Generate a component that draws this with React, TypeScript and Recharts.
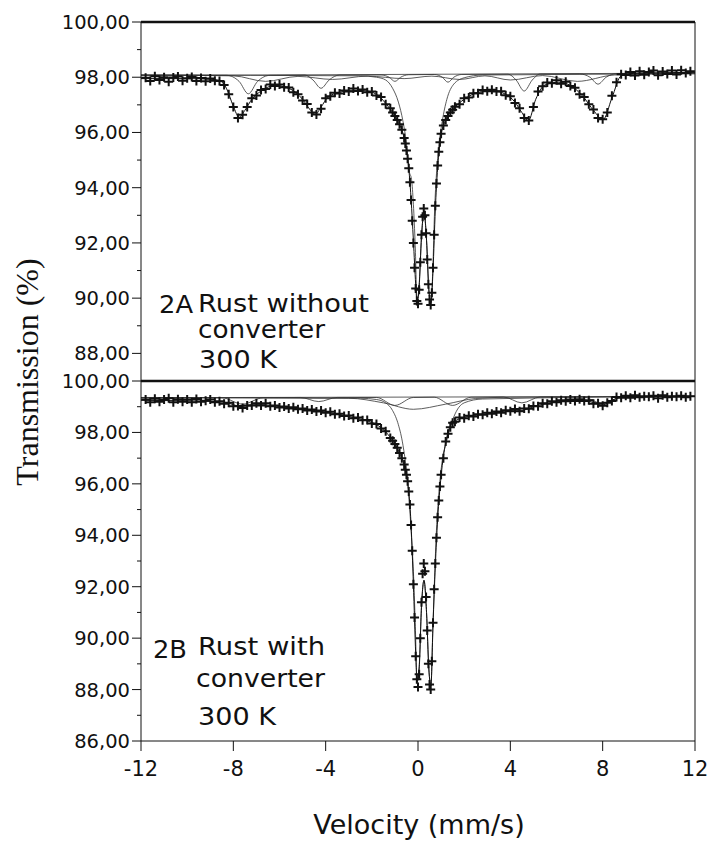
import React from "react";
import { ComposedChart, Line, XAxis, YAxis, ReferenceLine } from "recharts";

// velocity grid shared by both measured spectra (mm/s)
const VELOCITY = [
  -11.8, -11.6, -11.4, -11.2, -11.0, -10.8, -10.6, -10.4, -10.2, -10.0,
  -9.8, -9.6, -9.4, -9.2, -9.0, -8.8, -8.6, -8.4, -8.2, -8.0,
  -7.8, -7.6, -7.4, -7.2, -7.0, -6.8, -6.6, -6.4, -6.2, -6.0,
  -5.8, -5.6, -5.4, -5.2, -5.0, -4.8, -4.6, -4.4, -4.2, -4.0,
  -3.8, -3.6, -3.4, -3.2, -3.0, -2.8, -2.6, -2.4, -2.2, -2.0,
  -1.8, -1.6, -1.4, -1.2,
  -1.1, -1.0, -0.9, -0.8, -0.7, -0.6,
  -0.55, -0.5, -0.45, -0.4, -0.35, -0.3, -0.25, -0.2, -0.15, -0.1,
  -0.05, 0, 0.05, 0.1, 0.15, 0.2, 0.25, 0.3, 0.35, 0.4,
  0.45, 0.5, 0.55, 0.6, 0.65, 0.7, 0.75, 0.8, 0.85, 0.9,
  0.95, 1.0, 1.1, 1.2, 1.3, 1.4, 1.5,
  1.6, 1.8, 2.0, 2.2, 2.4, 2.6, 2.8, 3.0, 3.2, 3.4,
  3.6, 3.8, 4.0, 4.2, 4.4, 4.6, 4.8, 5.0, 5.2, 5.4,
  5.6, 5.8, 6.0, 6.2, 6.4, 6.6, 6.8, 7.0, 7.2, 7.4,
  7.6, 7.8, 8.0, 8.2, 8.4, 8.6, 8.8, 9.0, 9.2, 9.4,
  9.6, 9.8, 10.0, 10.2, 10.4, 10.6, 10.8, 11.0, 11.2, 11.4,
  11.6, 11.8,
];

// 2A: rust without converter (%)
const DATA_A = [
  97.98, 97.86, 98.04, 97.9, 98.0, 97.84, 97.99, 98.03, 97.87, 97.96,
  98.01, 97.86, 97.97, 97.85, 97.95, 97.87, 97.86, 97.72, 97.38, 96.92,
  96.52, 96.64, 96.92, 97.24, 97.34, 97.54, 97.57, 97.74, 97.68, 97.74,
  97.64, 97.63, 97.46, 97.38, 97.16, 97.03, 96.72, 96.65, 96.86, 97.24,
  97.31, 97.44, 97.41, 97.52, 97.48, 97.59, 97.5, 97.56, 97.46, 97.48,
  97.34, 97.28, 97.02, 96.88,
  96.72, 96.6, 96.45, 96.3, 96.1, 95.8,
  95.6, 95.35, 95.05, 94.7, 94.2, 93.55, 92.8, 92.0, 91.1, 90.35,
  89.9, 89.8, 90.3, 91.3, 92.3, 92.95, 93.25, 93.0, 92.35, 91.4,
  90.5, 89.95, 89.75, 90.2, 91.1, 92.3, 93.35, 94.15, 94.8, 95.3,
  95.65, 95.95, 96.25, 96.45, 96.6, 96.72, 96.82,
  96.93, 97.02, 97.24, 97.27, 97.42, 97.42, 97.54, 97.49, 97.55, 97.48,
  97.49, 97.35, 97.31, 97.07, 96.88, 96.52, 96.43, 96.92, 97.48, 97.67,
  97.81, 97.78, 97.89, 97.76, 97.84, 97.68, 97.62, 97.38, 97.28, 97.02,
  96.83, 96.52, 96.48, 96.72, 97.33, 97.82, 98.11, 98.08, 98.19, 98.06,
  98.22, 98.09, 98.19, 98.24, 98.07, 98.21, 98.12, 98.24, 98.1, 98.25,
  98.15, 98.22,
];

// 2B: rust with converter (%)
const DATA_B = [
  99.28, 99.17, 99.31, 99.19, 99.28, 99.33, 99.17, 99.29, 99.19, 99.28,
  99.17, 99.3, 99.19, 99.23, 99.28, 99.17, 99.21, 99.12, 99.15, 99.02,
  99.03, 98.95, 99.05, 99.05, 99.13, 99.05, 99.13, 99.02, 99.05, 98.97,
  99.01, 98.93, 98.98, 98.9, 98.93, 98.85, 98.89, 98.81, 98.85, 98.77,
  98.8, 98.71, 98.73, 98.64, 98.66, 98.55, 98.58, 98.47, 98.48, 98.35,
  98.33, 98.15, 98.05, 97.78,
  97.68, 97.55, 97.4, 97.2, 97.0, 96.75,
  96.55, 96.35, 96.1, 95.7, 95.2, 94.4, 93.4, 92.1, 90.8, 89.3,
  88.4, 88.1, 88.6, 90.0, 91.4, 92.5, 92.9, 92.6, 91.6, 90.3,
  89.0, 88.2, 88.0, 89.1, 90.6, 91.9, 92.9, 93.9, 94.7, 95.35,
  95.9, 96.35, 97.0, 97.65, 97.95, 98.2, 98.38,
  98.42, 98.58, 98.55, 98.65, 98.62, 98.71, 98.69, 98.77, 98.73, 98.81,
  98.77, 98.86, 98.82, 98.91, 98.82, 98.93, 98.92, 99.03, 99.02, 99.13,
  99.12, 99.21, 99.17, 99.25, 99.21, 99.28, 99.22, 99.29, 99.22, 99.25,
  99.12, 99.13, 99.04, 99.15, 99.22, 99.38, 99.35, 99.43, 99.35, 99.45,
  99.37, 99.41, 99.39, 99.43, 99.33, 99.45, 99.37, 99.41, 99.39, 99.43,
  99.37, 99.41,
];

// fitted envelopes
const FIT_VEL = [
  -12, -11, -10, -9, -8.6, -8.3, -8.0, -7.75, -7.5, -7.2,
  -6.8, -6.2, -5.6, -5.0, -4.7, -4.45, -4.2, -3.9, -3.4, -2.8,
  -2.2, -1.7, -1.3, -1.0, -0.8, -0.6, -0.45, -0.3, -0.2, -0.1,
  -0.04, 0.05, 0.15, 0.26, 0.37, 0.47, 0.56, 0.65, 0.75, 0.85,
  1.0, 1.2, 1.5, 2.0, 2.6, 3.2, 3.8, 4.2, 4.5, 4.78,
  5.1, 5.5, 6.1, 6.7, 7.2, 7.6, 8.02, 8.4, 8.8, 9.5,
  10.5, 12,
];
const FIT_A = [
  97.95, 97.95, 97.95, 97.93, 97.88, 97.6, 96.95, 96.55, 96.8, 97.2,
  97.5, 97.7, 97.6, 97.2, 96.85, 96.65, 96.92, 97.28, 97.45, 97.53,
  97.5, 97.32, 96.95, 96.6, 96.3, 95.8, 95.1, 93.6, 92.1, 90.5,
  89.85, 90.4, 92.2, 93.1, 92.1, 90.3, 89.8, 91.0, 93.2, 94.7,
  95.9, 96.45, 96.82, 97.2, 97.45, 97.52, 97.38, 97.1, 96.72, 96.42,
  97.2, 97.72, 97.82, 97.65, 97.25, 96.8, 96.47, 97.25, 98.05, 98.15,
  98.16, 98.18,
];
const FIT_B = [
  99.25, 99.24, 99.23, 99.21, 99.19, 99.16, 99.08, 99.02, 99.02, 99.07,
  99.08, 99.03, 98.96, 98.9, 98.87, 98.85, 98.82, 98.78, 98.7, 98.58,
  98.45, 98.25, 97.92, 97.55, 97.2, 96.75, 96.1, 94.4, 92.1, 89.4,
  88.3, 88.8, 91.2, 92.25, 91.0, 88.8, 88.15, 90.5, 92.8, 94.6,
  96.3, 97.6, 98.38, 98.58, 98.68, 98.76, 98.83, 98.87, 98.86, 98.93,
  99.03, 99.12, 99.2, 99.25, 99.25, 99.16, 99.07, 99.25, 99.37, 99.4,
  99.4, 99.4,
];

// quadrupole doublet sub-spectra
const DOUBLET_VEL = [
  -12, -2.5, -1.8, -1.4, -1.1, -0.85, -0.65, -0.5, -0.38, -0.28,
  -0.2, -0.12, -0.04, 0.05, 0.15, 0.26, 0.37, 0.47, 0.56, 0.64,
  0.72, 0.8, 0.9, 1.05, 1.25, 1.55, 2.0, 2.8, 12,
];
const DOUBLET_A = [
  98.08, 98.05, 98.0, 97.9, 97.6, 97.1, 96.4, 95.6, 94.6, 94.3,
  93.4, 91.9, 89.9, 90.5, 92.2, 93.1, 92.1, 90.3, 89.85, 91.0,
  93.2, 94.5, 95.5, 96.4, 97.2, 97.75, 97.98, 98.08, 98.12,
];
const DOUBLET_B = [
  99.36, 99.33, 99.28, 99.15, 98.85, 98.3, 97.5, 96.5, 95.3, 93.9,
  92.6, 90.6, 88.35, 88.9, 91.2, 92.25, 91.0, 88.8, 88.15, 90.3,
  92.4, 94.2, 95.6, 96.9, 97.7, 98.6, 99.15, 99.3, 99.4,
];

// magnetic sextet sub-spectra
const SEXTET_A_VEL = [
  -12, -8.3, -7.75, -7.35, -6.95, -6.4, -4.9, -4.55, -4.2, -3.85,
  -3.4, -1.6, -1.25, -1.0, -0.75, -0.4, 0.7, 1.05, 1.3, 1.55,
  1.9, 3.9, 4.25, 4.6, 4.95, 5.3, 7.0, 7.45, 7.8, 8.15,
  8.6, 12,
];
const SEXTET_A = [
  98.08, 98.07, 97.85, 97.4, 97.85, 98.07, 98.08, 97.9, 97.6, 97.9,
  98.08, 98.08, 98.0, 97.85, 98.0, 98.09, 98.1, 98.0, 97.82, 98.0,
  98.1, 98.11, 97.9, 97.5, 97.9, 98.12, 98.12, 98.0, 97.75, 98.0,
  98.13, 98.15,
];
const BROAD_A_VEL = [-12, -8.0, -6.6, -5.2, -3.7, -2.2, -0.6, 0.6, 1.8, 2.9, 4.0, 5.4, 6.9, 8.5, 12];
const BROAD_A = [98.08, 98.05, 97.85, 98.03, 97.92, 98.04, 97.95, 98.04, 97.92, 98.05, 97.9, 98.06, 97.85, 98.08, 98.15];

const SEXTET_B_VEL = [
  -12, -8.5, -7.6, -6.7, -5.1, -4.3, -3.5, -1.8, -1.0, -0.2,
  0.7, 1.5, 2.3, 3.7, 4.5, 5.3, 7.1, 8.0, 8.9, 12,
];
const SEXTET_B = [
  99.35, 99.35, 99.1, 99.35, 99.36, 99.2, 99.36, 99.36, 99.05, 99.36,
  99.37, 99.05, 99.37, 99.38, 99.15, 99.38, 99.39, 99.12, 99.39, 99.4,
];
const BROAD_B_VEL = [-12, -3.0, -1.5, -0.2, 1.2, 2.5, 4.0, 12];
const BROAD_B = [99.35, 99.33, 99.15, 98.9, 99.1, 99.32, 99.37, 99.4];

const BASE_VEL = [-12, 12];
const BASE_A = [98.06, 98.15];
const BASE_B = [99.35, 99.4];

const TICKS_A = [88, 89, 90, 91, 92, 93, 94, 95, 96, 97, 98, 99, 100];
const TICKS_B = [86, 87, 88, 89, 90, 91, 92, 93, 94, 95, 96, 97, 98, 99, 100];
const X_TICKS = [-12, -8, -4, 0, 4, 8, 12];

const SANS = "'DejaVu Sans', Arial, sans-serif";
const INK = "#111";

const pts = (xs: number[], ys: number[]) => xs.map((v, i) => ({ v, t: ys[i] }));
const fmt = (v: number) => v.toFixed(2).replace(".", ",");

const PlusDot = (p: any) => {
  const { cx, cy, index } = p;
  if (cx == null || cy == null) return <g key={`e${index}`} />;
  return (
    <path
      key={`p${index}`}
      d={`M${cx - 4.5},${cy}H${cx + 4.5}M${cx},${cy - 4.5}V${cy + 4.5}`}
      stroke={INK}
      strokeWidth={2}
      fill="none"
    />
  );
};

const YTick = (p: any) => {
  const { x, y, payload } = p;
  const major = payload.value % 2 === 0;
  return (
    <g>
      <line x1={x - (major ? 9 : 4)} x2={x} y1={y} y2={y} stroke={INK} strokeWidth={1} />
      {major && (
        <text x={x - 11} y={y} dy="0.36em" textAnchor="end" fontSize={19.5} fontFamily={SANS} fill={INK}>
          {fmt(payload.value)}
        </text>
      )}
    </g>
  );
};

function Spectrum(props: {
  height: number;
  margin: any;
  domain: [number, number];
  ticks: number[];
  data: number[];
  fit: number[];
  doublet: number[];
  sextetVel: number[];
  sextet: number[];
  broadVel: number[];
  broad: number[];
  base: number[];
  showX: boolean;
}) {
  const thin = { stroke: "#333", strokeWidth: 0.8, dot: false, activeDot: false, isAnimationActive: false };
  return (
    <ComposedChart width={714} height={props.height} margin={props.margin}>
      <XAxis
        type="number"
        dataKey="v"
        domain={[-12, 12]}
        ticks={X_TICKS}
        interval={0}
        allowDataOverflow
        hide={!props.showX}
        height={40}
        tickSize={10}
        tickMargin={10}
        axisLine={{ stroke: INK, strokeWidth: 1 }}
        tickLine={{ stroke: INK, strokeWidth: 1 }}
        tick={{ fontSize: 21, fontFamily: SANS, fill: INK }}
      />
      <YAxis
        type="number"
        domain={props.domain}
        ticks={props.ticks}
        interval={0}
        allowDataOverflow
        width={71}
        tickSize={0}
        tickMargin={0}
        tickLine={false}
        axisLine={{ stroke: INK, strokeWidth: 1 }}
        tick={<YTick />}
      />
      <Line data={pts(BASE_VEL, props.base)} dataKey="t" type="linear" {...thin} />
      <Line data={pts(props.broadVel, props.broad)} dataKey="t" type="monotone" {...thin} />
      <Line data={pts(props.sextetVel, props.sextet)} dataKey="t" type="monotone" {...thin} />
      <Line data={pts(DOUBLET_VEL, props.doublet)} dataKey="t" type="monotone" {...thin} />
      <Line
        data={pts(VELOCITY, props.data)}
        dataKey="t"
        stroke="none"
        dot={PlusDot}
        activeDot={false}
        isAnimationActive={false}
      />
      <Line
        data={pts(FIT_VEL, props.fit)}
        dataKey="t"
        type="monotone"
        stroke={INK}
        strokeWidth={1}
        dot={false}
        activeDot={false}
        isAnimationActive={false}
      />
      <ReferenceLine y={100} stroke={INK} strokeWidth={2.5} />
      <ReferenceLine x={12} stroke={INK} strokeWidth={1} />
    </ComposedChart>
  );
}

export default function App() {
  const label = { fontFamily: SANS, fontSize: 24, fill: INK, lengthAdjust: "spacingAndGlyphs" } as any;
  return (
    <div style={{ position: "absolute", left: 0, top: 0, width: 714, height: 841, background: "#fff" }}>
      <div style={{ position: "absolute", left: 0, top: 0 }}>
        <Spectrum
          height={381}
          margin={{ top: 22, right: 19, bottom: 0, left: 70 }}
          domain={[87, 100]}
          ticks={TICKS_A}
          data={DATA_A}
          fit={FIT_A}
          doublet={DOUBLET_A}
          sextetVel={SEXTET_A_VEL}
          sextet={SEXTET_A}
          broadVel={BROAD_A_VEL}
          broad={BROAD_A}
          base={BASE_A}
          showX={false}
        />
      </div>
      <div style={{ position: "absolute", left: 0, top: 371 }}>
        <Spectrum
          height={470}
          margin={{ top: 10, right: 19, bottom: 60, left: 70 }}
          domain={[86, 100]}
          ticks={TICKS_B}
          data={DATA_B}
          fit={FIT_B}
          doublet={DOUBLET_B}
          sextetVel={SEXTET_B_VEL}
          sextet={SEXTET_B}
          broadVel={BROAD_B_VEL}
          broad={BROAD_B}
          base={BASE_B}
          showX
        />
      </div>
      <svg width={714} height={841} style={{ position: "absolute", left: 0, top: 0, pointerEvents: "none" }}>
        <text
          transform="translate(27,372) rotate(-90)"
          textAnchor="middle"
          dominantBaseline="central"
          fontFamily="'Liberation Serif', 'Times New Roman', serif"
          fontSize={32}
          fill={INK}
        >
          Transmission (%)
        </text>
        <text x={419} y={834} textAnchor="middle" fontFamily={SANS} fontSize={27} fill={INK}>
          Velocity (mm/s)
        </text>

        <text x={159} y={313} textLength={34} {...label}>2A</text>
        <text x={198} y={312} textLength={171} {...label}>Rust without</text>
        <text x={198} y={338} textLength={127} {...label}>converter</text>
        <text x={199} y={368} textLength={78} fontSize={26} {...label}>300 K</text>

        <text x={153} y={658} textLength={34} {...label}>2B</text>
        <text x={198} y={655} textLength={127} {...label}>Rust with</text>
        <text x={196} y={687} textLength={129} {...label}>converter</text>
        <text x={198} y={725} textLength={78} {...label}>300 K</text>
      </svg>
    </div>
  );
}
